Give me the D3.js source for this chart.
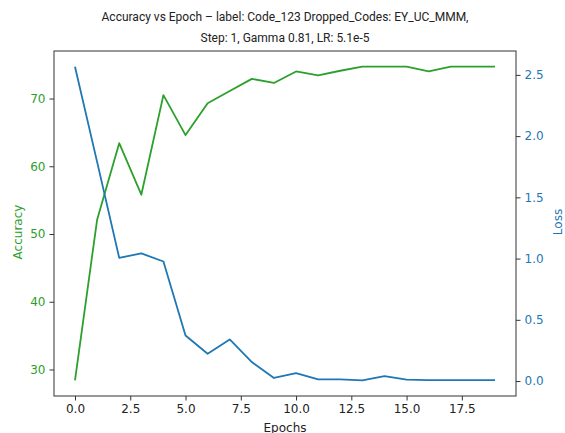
<!DOCTYPE html>
<html>
<head>
<meta charset="utf-8">
<script src="https://cdn.jsdelivr.net/npm/d3@7"></script>
<style>
  body { margin: 0; background: #fff; }
  svg { display: block; }
  .tick text { font-family: "DejaVu Sans", sans-serif; font-size: 12px; }
</style>
</head>
<body>
<svg id="chart"></svg>
<script>
// values
var epochs = [0, 1, 2, 3, 4, 5, 6, 7, 8, 9, 10, 11, 12, 13, 14, 15, 16, 17, 18, 19];
var accuracy = [28.4, 52.1, 63.4, 55.8, 70.5, 64.6, 69.3, 71.1, 72.9, 72.3,
                74.0, 73.4, 74.1, 74.7, 74.7, 74.7, 74.0, 74.7, 74.7, 74.7];
var loss = [2.567, 1.79, 1.006, 1.043, 0.976, 0.372, 0.223, 0.34, 0.155, 0.025,
            0.065, 0.014, 0.014, 0.006, 0.041, 0.011, 0.008, 0.008, 0.008, 0.008];
var xTicks = [0, 2.5, 5, 7.5, 10, 12.5, 15, 17.5];
var accTicks = [30, 40, 50, 60, 70];
var lossTicks = [0, 0.5, 1, 1.5, 2, 2.5];
var titleLines = ["Accuracy vs Epoch \u2013 label: Code_123 Dropped_Codes: EY_UC_MMM,",
                  "Step: 1, Gamma 0.81, LR: 5.1e-5"];

var W = 565, H = 433;
var mL = 54, mR = 516, mT = 51, mB = 396;
var green = "#2ca02c", blue = "#1f77b4";

var svg = d3.select("#chart").attr("width", W).attr("height", H);

// matplotlib style 5% padding
function pad(ext) {
    var m = (ext[1] - ext[0]) * 0.05;
    return [ext[0] - m, ext[1] + m];
}

var x = d3.scaleLinear().domain(pad(d3.extent(epochs))).range([mL, mR]);
var yAcc = d3.scaleLinear().domain(pad(d3.extent(accuracy))).range([mB, mT]);
var yLoss = d3.scaleLinear().domain(pad(d3.extent(loss))).range([mB, mT]);

var accLine = d3.line().x((d, i) => x(epochs[i])).y(d => yAcc(d));
var lossLine = d3.line().x((d, i) => x(epochs[i])).y(d => yLoss(d));

svg.append("path")
    .datum(accuracy)
    .attr("d", accLine)
    .attr("fill", "none")
    .attr("stroke", green)
    .attr("stroke-width", 1.8)
    .attr("stroke-linejoin", "round");

svg.append("path")
    .datum(loss)
    .attr("d", lossLine)
    .attr("fill", "none")
    .attr("stroke", blue)
    .attr("stroke-width", 1.8)
    .attr("stroke-linejoin", "round");

// axes
var xAxis = d3.axisBottom(x).tickValues(xTicks).tickFormat(d3.format(".1f")).tickSize(4.5).tickPadding(4).tickSizeOuter(0);
var accAxis = d3.axisLeft(yAcc).tickValues(accTicks).tickFormat(d3.format("d")).tickSize(4.5).tickPadding(4).tickSizeOuter(0);
var lossAxis = d3.axisRight(yLoss).tickValues(lossTicks).tickFormat(d3.format(".1f")).tickSize(4.5).tickPadding(4).tickSizeOuter(0);

var gx = svg.append("g").attr("transform", "translate(0," + mB + ")").call(xAxis);
var gl = svg.append("g").attr("transform", "translate(" + mL + ",0)").call(accAxis);
var gr = svg.append("g").attr("transform", "translate(" + mR + ",0)").call(lossAxis);

[gx, gl, gr].forEach(function(g) {
    g.select(".domain").remove();
    g.selectAll(".tick line").attr("stroke", "#333");
});
gx.selectAll(".tick text").attr("fill", "#222");
gl.selectAll(".tick text").attr("fill", green);
gr.selectAll(".tick text").attr("fill", blue);

// frame
svg.append("rect")
    .attr("x", mL).attr("y", mT)
    .attr("width", mR - mL).attr("height", mB - mT)
    .attr("fill", "none")
    .attr("stroke", "#333")
    .attr("stroke-width", 1);

// labels
svg.append("text")
    .text("Epochs")
    .attr("x", (mL + mR) / 2).attr("y", 432)
    .attr("text-anchor", "middle")
    .style("font-family", "DejaVu Sans")
    .style("font-size", "12px")
    .attr("fill", "#222");

svg.append("text")
    .text("Accuracy")
    .attr("transform", "translate(22,232) rotate(-90)")
    .attr("text-anchor", "middle")
    .style("font-family", "DejaVu Sans")
    .style("font-size", "12px")
    .attr("fill", green);

svg.append("text")
    .text("Loss")
    .attr("transform", "translate(562,222) rotate(-90)")
    .attr("text-anchor", "middle")
    .style("font-family", "DejaVu Sans")
    .style("font-size", "12px")
    .attr("fill", blue);

svg.selectAll(".title")
    .data(titleLines)
    .enter().append("text")
    .attr("class", "title")
    .text(d => d)
    .attr("x", 285)
    .attr("y", (d, i) => 21 + i * 21)
    .attr("text-anchor", "middle")
    .style("font-family", "Roboto, sans-serif")
    .style("font-size", "12px")
    .attr("fill", "#222");
</script>
</body>
</html>
